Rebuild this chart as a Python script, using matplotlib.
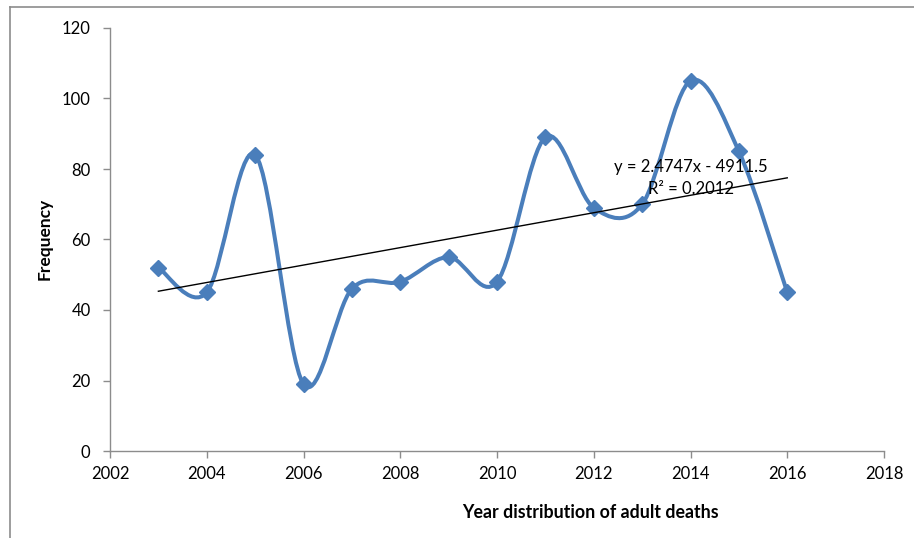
import numpy as np
import matplotlib
matplotlib.use("Agg")
import matplotlib.pyplot as plt
from matplotlib.path import Path
from matplotlib.patches import PathPatch
from matplotlib.lines import Line2D

plt.rcParams['font.family'] = ['Lato', 'DejaVu Sans']

years = [2003, 2004, 2005, 2006, 2007, 2008, 2009, 2010, 2011, 2012, 2013, 2014, 2015, 2016]
deaths = [52, 45, 84, 19, 46, 48, 55, 48, 89, 69, 70, 105, 85, 45]
x_ticks = [2002, 2004, 2006, 2008, 2010, 2012, 2014, 2016, 2018]
y_ticks = [0, 20, 40, 60, 80, 100, 120]
slope, intercept = 2.4747, -4911.5
eq_text = "y = 2.4747x - 4911.5"
r2_text = "R² = 0.2012"

fig = plt.figure(figsize=(9.14, 5.38), dpi=100)
ax = fig.add_axes([110/914, 1-451/538, (884-110)/914, (451-28)/538])

blue = '#4A7EBB'

# Excel-style smoothed line (Catmull-Rom Bezier)
xs = np.array(years, float)
ys = np.array(deaths, float)
n = len(xs)
verts = [(xs[0], ys[0])]
codes = [Path.MOVETO]
for i in range(n - 1):
    i0 = max(i - 1, 0)
    i3 = min(i + 2, n - 1)
    c1 = (xs[i] + (xs[i+1] - xs[i0]) / 6, ys[i] + (ys[i+1] - ys[i0]) / 6)
    c2 = (xs[i+1] - (xs[i3] - xs[i]) / 6, ys[i+1] - (ys[i3] - ys[i]) / 6)
    verts += [c1, c2, (xs[i+1], ys[i+1])]
    codes += [Path.CURVE4] * 3
patch = PathPatch(Path(verts, codes), facecolor='none', edgecolor=blue, lw=2.9,
                  capstyle='round', joinstyle='round', zorder=3)
ax.add_patch(patch)
ax.plot(years, deaths, linestyle='none', marker='D', markersize=7.8,
        color=blue, markeredgecolor=blue, zorder=4)

# trendline
tx = np.array([years[0], years[-1]], float)
ax.plot(tx, slope * tx + intercept, color='black', lw=1.0, zorder=5)

ax.text(2014.01, 80.6, eq_text, ha='center', va='center', fontsize=12, zorder=6)
ax.text(2014.01, 74.2, r2_text, ha='center', va='center', fontsize=12, zorder=6)

ax.set_xlim(2002, 2018)
ax.set_ylim(0, 120)
ax.set_xticks(x_ticks)
ax.set_yticks(y_ticks)
ax.set_xticklabels([str(v) for v in x_ticks])
ax.set_yticklabels([str(v) for v in y_ticks])
for s in ['top', 'right']:
    ax.spines[s].set_visible(False)
for s in ['left', 'bottom']:
    ax.spines[s].set_color('#8c8c8c')
    ax.spines[s].set_linewidth(1.0)
ax.tick_params(axis='both', colors='#8c8c8c', length=5, width=1.0, labelcolor='black',
               labelsize=12, direction='out')
ax.tick_params(axis='x', pad=6)
ax.tick_params(axis='y', pad=9)

fig.text(590/914, 1-512/538, "Year distribution of adult deaths", ha='center', va='center',
         fontsize=12.8, fontweight='bold')
fig.text(45/914, 1-239/538, "Frequency", ha='center', va='center', rotation=90,
         fontsize=12.5, fontweight='bold')

# chart border (top and left visible)
fig.add_artist(Line2D([9.5/914, 1], [1-6.5/538, 1-6.5/538], transform=fig.transFigure,
                      color='#8c8c8c', lw=1.2))
fig.add_artist(Line2D([9.5/914, 9.5/914], [0, 1-6.5/538], transform=fig.transFigure,
                      color='#8c8c8c', lw=1.2))

fig.savefig('out.png', dpi=100)
